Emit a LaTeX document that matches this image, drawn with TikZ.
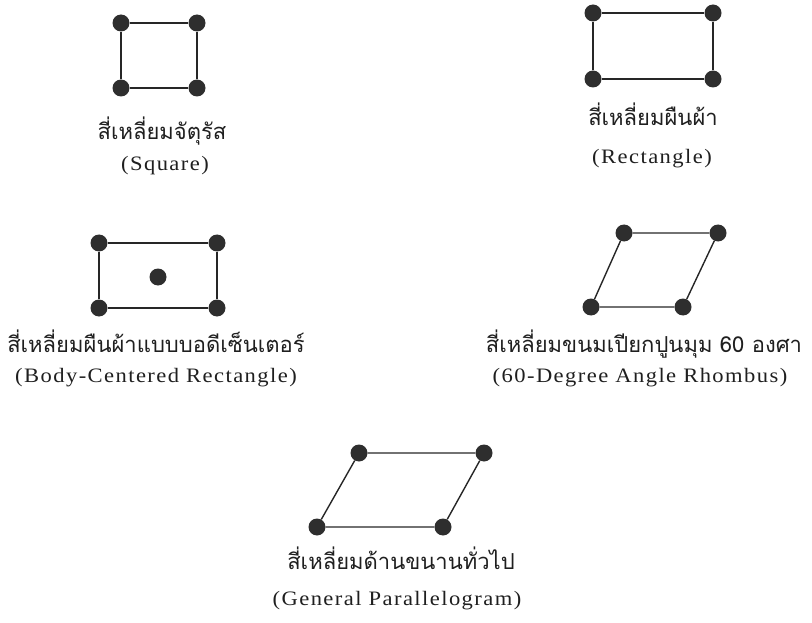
\documentclass[tikz,border=0pt]{standalone}
\usepackage{fontspec}
\newfontfamily\thaifont[Script=Thai]{Loma}
\newfontfamily\latinfont[LetterSpace=7,FakeStretch=1.1]{Liberation Serif}
\tikzset{
  lattice/.style={line width=1.4pt, draw=black!85},
  site/.style={circle, fill=black!82, inner sep=0pt, minimum size=17pt},
  thai/.style={anchor=base, inner sep=0pt, font=\thaifont\fontsize{22}{24}\selectfont, text=black!88},
  latin/.style={anchor=base, inner sep=0pt, font=\latinfont\fontsize{20.5}{23}\selectfont, text=black!88},
}
\begin{document}
\begin{tikzpicture}[x=1pt, y=-1pt]
\useasboundingbox (0,0) rectangle (812,623);

% Square
\node[site] (sq1) at (121,23) {};
\node[site] (sq2) at (197,23) {};
\node[site] (sq3) at (197,88) {};
\node[site] (sq4) at (121,88) {};
\draw[lattice] (sq1) -- (sq2) -- (sq3) -- (sq4) -- (sq1);
\node[thai] (sqth) at (162,140) {สี่เหลี่ยมจัตุรัส};
\node[latin] (sqen) at (165,171) {(Square)};

% Rectangle
\node[site] (re1) at (593,13) {};
\node[site] (re2) at (713,13) {};
\node[site] (re3) at (713,79) {};
\node[site] (re4) at (593,79) {};
\draw[lattice] (re1) -- (re2) -- (re3) -- (re4) -- (re1);
\node[thai] (reth) at (653,126) {สี่เหลี่ยมผืนผ้า};
\node[latin] (reen) at (652,164) {(Rectangle)};

% Body-centred rectangle
\node[site] (bc1) at (99,243) {};
\node[site] (bc2) at (217,243) {};
\node[site] (bc3) at (217,308) {};
\node[site] (bc4) at (99,308) {};
\node[site] (bc5) at (158,277) {};
\draw[lattice] (bc1) -- (bc2) -- (bc3) -- (bc4) -- (bc1);
\node[thai] (bcth) at (156,352) {สี่เหลี่ยมผืนผ้าแบบบอดีเซ็นเตอร์};
\node[latin] (bcen) at (156,382) {(Body-Centered Rectangle)};

% 60-degree rhombus
\node[site] (rh1) at (624,233) {};
\node[site] (rh2) at (718,233) {};
\node[site] (rh3) at (683,307) {};
\node[site] (rh4) at (591,307) {};
\draw[lattice] (rh1) -- (rh2) -- (rh3) -- (rh4) -- (rh1);
\node[thai] (rhth) at (644,352) {สี่เหลี่ยมขนมเปียกปูนมุม 60 องศา};
\node[latin] (rhen) at (640,382) {(60-Degree Angle Rhombus)};

% General parallelogram
\node[site] (gp1) at (359,453) {};
\node[site] (gp2) at (484,453) {};
\node[site] (gp3) at (443,527) {};
\node[site] (gp4) at (317,527) {};
\draw[lattice] (gp1) -- (gp2) -- (gp3) -- (gp4) -- (gp1);
\node[thai] (gpth) at (401,569) {สี่เหลี่ยมด้านขนานทั่วไป};
\node[latin] (gpen) at (397,605) {(General Parallelogram)};
\end{tikzpicture}
\end{document}
